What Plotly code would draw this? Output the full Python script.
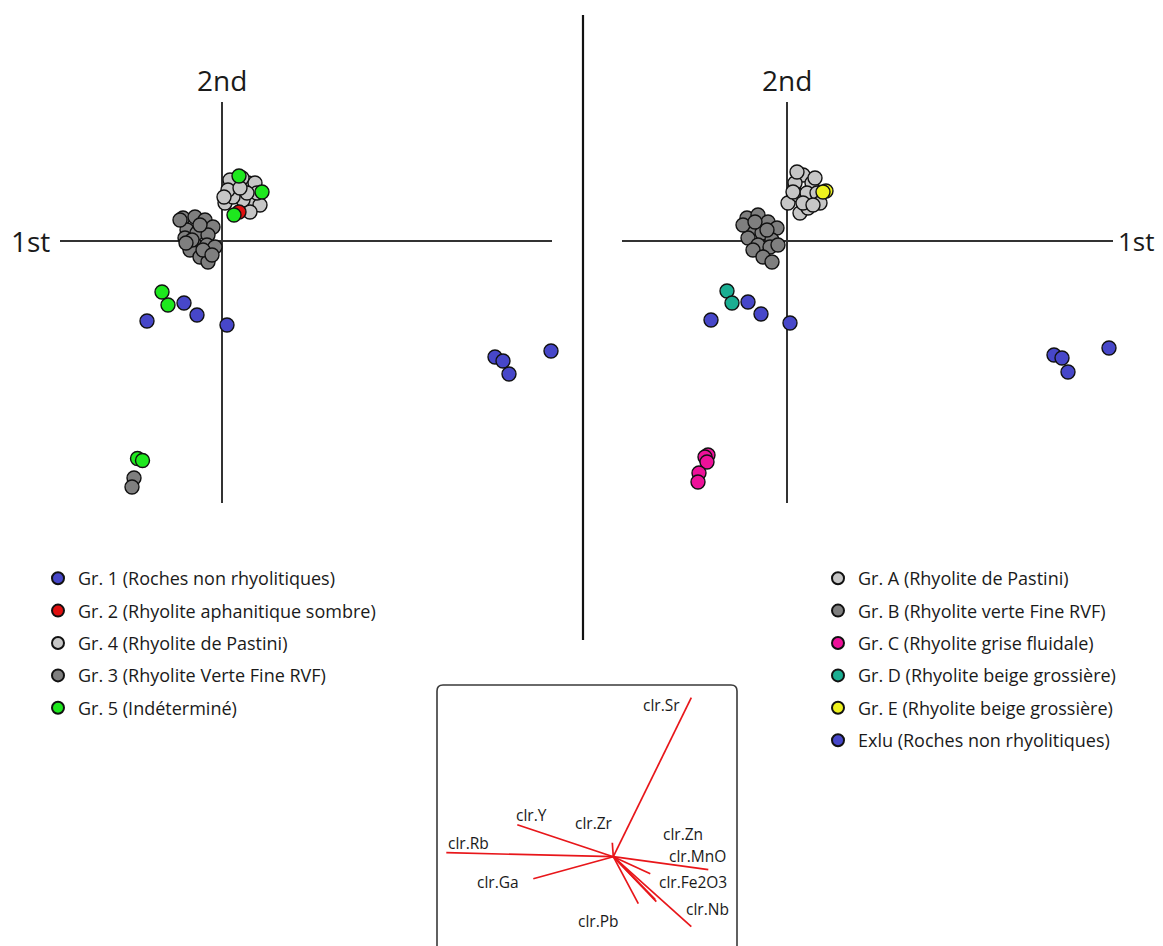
import plotly.graph_objects as go

# page body adds an 8px margin; compensate so the picture lines up with 1163x946
OFF = 8
W, H = 1163 - OFF, 946 - OFF

# ---------------- Left PCA (scores on 1st / 2nd components) ----------------
L_gr1_x = [-1.50, -0.76, -0.50, 0.10, 5.46, 5.62, 5.74, 6.58]
L_gr1_y = [-1.60, -1.24, -1.48, -1.68, -2.32, -2.40, -2.66, -2.20]

L_gr3_x = [-0.78, -0.54, -0.34, -0.18, -0.70, -0.50, -0.28, -0.74, -0.54, -0.30,
           -0.64, -0.44, -0.28, -0.14, -0.84, -0.44, -0.60, -0.38, -0.20, -0.72,
           -1.76, -1.80]
L_gr3_y = [0.46, 0.48, 0.42, 0.28, 0.22, 0.16, 0.12, 0.06, -0.08, -0.08,
           -0.18, -0.32, -0.42, -0.12, 0.42, 0.32, 0.02, -0.18, -0.28, -0.04,
           -4.74, -4.92]

L_gr4_x = [0.06, 0.20, 0.30, 0.52, 0.66, 0.60, 0.76, 0.42, 0.16, 0.40, 0.70, 0.50,
           0.22, 0.56, 0.12, 0.36, 0.04]
L_gr4_y = [0.76, 1.12, 0.96, 1.16, 1.16, 0.76, 0.72, 0.82, 1.22, 1.26, 0.96, 0.96,
           0.88, 0.58, 1.02, 1.06, 0.88]

L_gr2_x = [0.34]
L_gr2_y = [0.58]

L_gr5_x = [-1.20, -1.08, -1.69, -1.59, 0.34, 0.80, 0.24]
L_gr5_y = [-1.02, -1.28, -4.35, -4.39, 1.30, 0.98, 0.52]

# ---------------- Right PCA ----------------
R_exlu_x = [-1.52, -0.78, -0.52, 0.06, 5.34, 5.50, 5.62, 6.44]
R_exlu_y = [-1.58, -1.22, -1.46, -1.64, -2.28, -2.34, -2.62, -2.14]

R_grB_x = [-0.80, -0.58, -0.38, -0.20, -0.74, -0.50, -0.30, -0.78, -0.58, -0.34,
           -0.68, -0.48, -0.30, -0.18, -0.40, -0.88, -0.64]
R_grB_y = [0.46, 0.52, 0.38, 0.26, 0.22, 0.16, 0.02, 0.06, -0.08, -0.12,
           -0.18, -0.32, -0.42, -0.08, 0.22, 0.32, 0.38]

R_grA_x = [0.32, 0.50, 0.16, 0.02, 0.22, 0.40, 0.60, 0.66, 0.26, 0.42, 0.12, 0.32,
           0.52, 0.20, 0.56]
R_grA_y = [1.32, 1.16, 1.16, 0.76, 0.92, 0.96, 0.96, 0.76, 0.56, 0.66, 0.98, 0.76,
           0.72, 1.38, 1.26]

R_grC_x = [-1.58, -1.64, -1.60, -1.76, -1.78]
R_grC_y = [-4.28, -4.32, -4.42, -4.64, -4.82]

R_grD_x = [-1.20, -1.10]
R_grD_y = [-1.00, -1.24]

R_grE_x = [0.78, 0.72]
R_grE_y = [1.00, 0.98]

# ---------------- Loadings (biplot) ----------------
load_names = ["clr.Sr", "clr.Y", "clr.Rb", "clr.Ga", "clr.Zr", "clr.Zn", "clr.MnO",
              "clr.Fe2O3", "clr.Pb", "clr.Nb", ""]
load_pc1 = [0.78, -0.96, -1.67, -0.80, -0.01, 0.37, 0.95, 0.43, 0.25, 0.78, 0.42]
load_pc2 = [1.59, 0.32, 0.04, -0.22, 0.14, -0.17, -0.13, -0.45, -0.47, -0.70, -0.43]

# label offsets (px) relative to arrow tips
label_shift = {
    "clr.Sr": (-30, -7), "clr.Y": (14, 10), "clr.Rb": (22, 10), "clr.Ga": (-35, -3),
    "clr.Zr": (-18, 20), "clr.Zn": (33, 40), "clr.MnO": (-11, 14),
    "clr.Fe2O3": (37, 20), "clr.Pb": (-40, -17), "clr.Nb": (16, 18),
}

FONT = "Open Sans, Noto Sans, sans-serif"
TXT = "#1a1a1a"
C_BLUE = "#4747c9"
C_RED = "#e01010"
C_LGRAY = "#c6c6c6"
C_DGRAY = "#7f7f7f"
C_GREEN = "#1ee81e"
C_PINK = "#ee119a"
C_TEAL = "#1aae92"
C_YELLOW = "#eef21e"

fig = go.Figure()


def add_pts(x, y, color, name, xa, ya, legend, rank):
    fig.add_trace(go.Scatter(
        x=x, y=y, mode="markers", name=name, xaxis=xa, yaxis=ya,
        marker=dict(size=14, color=color, line=dict(color="#111111", width=1.4)),
        cliponaxis=False, legend=legend, legendrank=rank, legendgroup=name,
        hoverinfo="skip"))


# left panel (drawing order)
add_pts(L_gr1_x, L_gr1_y, C_BLUE, "Gr. 1 (Roches non rhyolitiques)", "x", "y", "legend", 1)
add_pts(L_gr3_x, L_gr3_y, C_DGRAY, "Gr. 3 (Rhyolite Verte Fine RVF)", "x", "y", "legend", 4)
add_pts(L_gr4_x, L_gr4_y, C_LGRAY, "Gr. 4 (Rhyolite de Pastini)", "x", "y", "legend", 3)
add_pts(L_gr2_x, L_gr2_y, C_RED, "Gr. 2 (Rhyolite aphanitique sombre)", "x", "y", "legend", 2)
add_pts(L_gr5_x, L_gr5_y, C_GREEN, "Gr. 5 (Indéterminé)", "x", "y", "legend", 5)

# right panel
add_pts(R_exlu_x, R_exlu_y, C_BLUE, "Exlu (Roches non rhyolitiques)", "x2", "y2", "legend2", 6)
add_pts(R_grB_x, R_grB_y, C_DGRAY, "Gr. B (Rhyolite verte Fine RVF)", "x2", "y2", "legend2", 2)
add_pts(R_grA_x, R_grA_y, C_LGRAY, "Gr. A (Rhyolite de Pastini)", "x2", "y2", "legend2", 1)
add_pts(R_grC_x, R_grC_y, C_PINK, "Gr. C (Rhyolite grise fluidale)", "x2", "y2", "legend2", 3)
add_pts(R_grD_x, R_grD_y, C_TEAL, "Gr. D (Rhyolite beige grossière)", "x2", "y2", "legend2", 4)
add_pts(R_grE_x, R_grE_y, C_YELLOW, "Gr. E (Rhyolite beige grossière)", "x2", "y2", "legend2", 5)

# biplot loading lines
lx, ly = [], []
for a, b in zip(load_pc1, load_pc2):
    lx += [0, a, None]
    ly += [0, b, None]
fig.add_trace(go.Scatter(x=lx, y=ly, mode="lines", xaxis="x3", yaxis="y3",
                         line=dict(color="#e8161a", width=1.7), showlegend=False,
                         hoverinfo="skip", cliponaxis=False))

annotations = []
for n, a, b in zip(load_names, load_pc1, load_pc2):
    if not n:
        continue
    dx, dy = label_shift[n]
    annotations.append(dict(x=a, y=b, xref="x3", yref="y3", text=n, showarrow=False,
                            xshift=dx, yshift=dy, xanchor="center", yanchor="middle",
                            font=dict(family=FONT, size=15.5, color=TXT)))


def px(v):
    return (v - OFF) / W


def py(v):
    return 1 - (v - OFF) / H


for t, x, y, anc, fs in [("2nd", 222, 80, "center", 28), ("1st", 30, 241, "center", 28),
                         ("2nd", 787, 80, "center", 28), ("1st", 1157, 241, "right", 26)]:
    annotations.append(dict(x=px(x), y=py(y), xref="paper", yref="paper", text=t,
                            showarrow=False, xanchor=anc, yanchor="middle",
                            font=dict(family=FONT, size=fs, color=TXT)))

# scale: 50 px per unit, origin at axis crossings
S = 50.0
ax_common = dict(showgrid=False, showticklabels=False, ticks="", showline=False,
                 zeroline=True, zerolinecolor="#333333", zerolinewidth=1.6)

left_x = (60, 552); right_x = (622, 1113); top_y, bot_y = 102, 503
oL, oR, oY = 222, 787, 241

lay = dict(
    width=W, height=H, margin=dict(l=0, r=0, t=0, b=0),
    paper_bgcolor="white", plot_bgcolor="rgba(0,0,0,0)",
    xaxis=dict(domain=[px(left_x[0]), px(left_x[1])],
               range=[(left_x[0] - oL) / S, (left_x[1] - oL) / S], anchor="y", **ax_common),
    yaxis=dict(domain=[py(bot_y), py(top_y)],
               range=[(oY - bot_y) / S, (oY - top_y) / S], anchor="x", **ax_common),
    xaxis2=dict(domain=[px(right_x[0]), px(right_x[1])],
                range=[(right_x[0] - oR) / S, (right_x[1] - oR) / S], anchor="y2", **ax_common),
    yaxis2=dict(domain=[py(bot_y), py(top_y)],
                range=[(oY - bot_y) / S, (oY - top_y) / S], anchor="x2", **ax_common),
)
# biplot axes: box 437..737 x 685..(bottom of page), centre at (613.3, 856.7), 100 px/unit
bx0, bx1, by0 = 437, 737, 685
by1 = OFF + H  # bottom edge of the figure
bcx, bcy, BS = 613.3, 856.7, 100.0
lay["xaxis3"] = dict(domain=[px(bx0), px(bx1)], range=[(bx0 - bcx) / BS, (bx1 - bcx) / BS],
                     anchor="y3", showgrid=False, showticklabels=False, ticks="",
                     zeroline=False, showline=False)
lay["yaxis3"] = dict(domain=[0, py(by0)],
                     range=[(bcy - by1) / BS, (bcy - by0) / BS],
                     anchor="x3", showgrid=False, showticklabels=False, ticks="",
                     zeroline=False, showline=False)

leg_common = dict(font=dict(family=FONT, size=18, color=TXT), bgcolor="rgba(0,0,0,0)",
                  tracegroupgap=6, itemclick=False, itemdoubleclick=False,
                  itemsizing="constant",
                  xanchor="left", yanchor="top", xref="paper", yref="paper")
lay["legend"] = dict(x=px(38), y=py(560), **leg_common)
lay["legend2"] = dict(x=px(818), y=py(560), **leg_common)

# divider and biplot frame
r = 6
l, rt, t, b = px(bx0), px(bx1), py(by0), -0.02
rx, ry = r / W, r / H
path = (f"M {l},{b} L {l},{t - ry} Q {l},{t} {l + rx},{t} L {rt - rx},{t} "
        f"Q {rt},{t} {rt},{t - ry} L {rt},{b}")
lay["shapes"] = [
    dict(type="line", xref="paper", yref="paper", x0=px(583), x1=px(583), y0=py(15), y1=py(640),
         line=dict(color="#111111", width=2.2)),
    dict(type="path", xref="paper", yref="paper", path=path,
         line=dict(color="#3a3a3a", width=1.6)),
]
lay["annotations"] = annotations
lay["showlegend"] = True
fig.update_layout(**lay)

fig.write_html("out.html")
